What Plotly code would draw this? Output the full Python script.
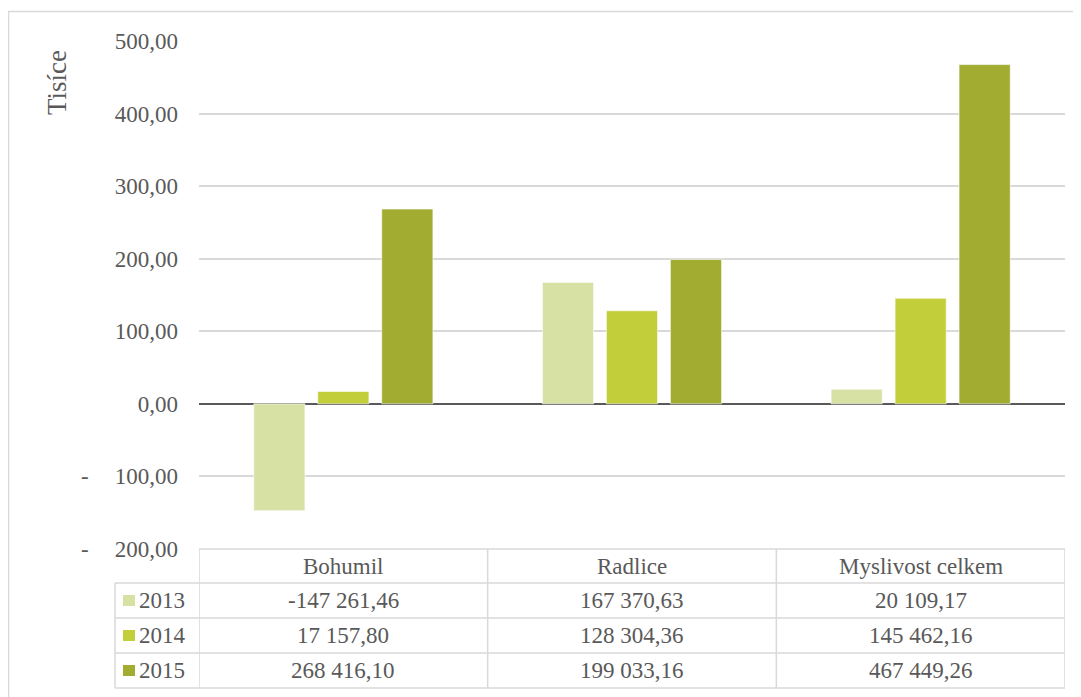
import plotly.graph_objects as go

categories = ["Bohumil", "Radlice", "Myslivost celkem"]
years = ["2013", "2014", "2015"]
values_2013 = [-147261.46, 167370.63, 20109.17]
values_2014 = [17157.80, 128304.36, 145462.16]
values_2015 = [268416.10, 199033.16, 467449.26]
series = [values_2013, values_2014, values_2015]
colors = ["#d8e1a4", "#c3cf3a", "#a1ac30"]
y_ticks = [-200, -100, 0, 100, 200, 300, 400, 500]

FONT = "Liberation Serif"
TXT = "#595959"
GRID = "#d9d9d9"
FS = 23
FS_TITLE = 27

OFF = 8  # page body margin
W, H = 1081 - OFF, 697 - OFF
L, R, T, B = 199 - OFF, 1065 - OFF, 41 - OFF, 549 - OFF


def px(x):
    return (x - OFF - L) / (R - L)


def py(y):
    return (B - (y - OFF)) / (B - T)


def fmt_cz(v):
    s = f"{abs(v):,.2f}"
    s = s.replace(",", " ").replace(".", ",")
    return ("-" if v < 0 else "") + s


fig = go.Figure()
for yr, vals, col in zip(years, series, colors):
    fig.add_trace(go.Bar(
        x=categories, y=[v / 1000 for v in vals], name=yr,
        marker=dict(color=col, line=dict(color="rgba(255,255,255,0.6)", width=1)),
        hoverinfo="skip",
    ))

ticktext = [fmt_cz(abs(t)) for t in y_ticks]

shapes = []
annotations = []

# outer chart border
shapes.append(dict(type="rect", xref="paper", yref="paper",
                   x0=px(8.5), x1=px(1100), y0=py(11.5), y1=py(720),
                   line=dict(color=GRID, width=1.5), layer="below"))

# table lines
row_lines = [583, 618, 653, 688]
line_style = dict(color=GRID, width=1.5)
shapes.append(dict(type="line", xref="x", yref="paper", x0=-0.5, x1=2.5,
                   y0=py(549), y1=py(549), line=line_style))
for ry in row_lines:
    shapes.append(dict(type="line", xref="paper", yref="paper", x0=px(115), x1=1,
                       y0=py(ry), y1=py(ry), line=line_style))
for cx in [-0.5, 0.5, 1.5, 2.5]:
    shapes.append(dict(type="line", xref="x", yref="paper", x0=cx, x1=cx,
                       y0=py(549), y1=py(688), line=line_style))
shapes.append(dict(type="line", xref="paper", yref="paper", x0=px(115), x1=px(115),
                   y0=py(583), y1=py(688), line=line_style))

# header text
for i, c in enumerate(categories):
    annotations.append(dict(x=i, y=py(566), xref="x", yref="paper", text=c,
                            showarrow=False, font=dict(family=FONT, size=FS, color=TXT),
                            xanchor="center", yanchor="middle"))

row_centers = [600.5, 635.5, 670.5]
for yr, vals, col, rc in zip(years, series, colors, row_centers):
    shapes.append(dict(type="rect", xref="paper", yref="paper",
                       x0=px(123), x1=px(135), y0=py(rc - 5.5), y1=py(rc + 5.5),
                       fillcolor=col, line=dict(width=0)))
    annotations.append(dict(x=px(137), y=py(rc), xref="paper", yref="paper", text=yr,
                            showarrow=False, font=dict(family=FONT, size=FS, color=TXT),
                            xanchor="left", yanchor="middle"))
    for i, v in enumerate(vals):
        annotations.append(dict(x=i, y=py(rc), xref="x", yref="paper", text=fmt_cz(v),
                                showarrow=False, font=dict(family=FONT, size=FS, color=TXT),
                                xanchor="center", yanchor="middle"))

# dashes for negative ticks (accounting format)
for t in y_ticks:
    if t < 0:
        annotations.append(dict(x=px(85), y=t, xref="paper", yref="y", text="-",
                                showarrow=False, font=dict(family=FONT, size=FS, color=TXT),
                                xanchor="center", yanchor="middle"))

# axis title
annotations.append(dict(x=px(57), y=py(83), xref="paper", yref="paper", text="Tisíce",
                        textangle=-90, showarrow=False,
                        font=dict(family=FONT, size=FS_TITLE, color=TXT),
                        xanchor="center", yanchor="middle"))

fig.update_layout(
    width=W, height=H,
    margin=dict(l=L, r=W - R, t=T, b=H - B),
    paper_bgcolor="white", plot_bgcolor="white",
    barmode="group", bargap=0.335, bargroupgap=0.2,
    showlegend=False,
    font=dict(family=FONT, size=FS, color=TXT),
    xaxis=dict(range=[-0.5, 2.5], showticklabels=False, showgrid=False,
               zeroline=False, showline=False, ticks=""),
    yaxis=dict(range=[-200, 500], tickvals=y_ticks, ticktext=ticktext,
               showgrid=True, gridcolor=GRID, gridwidth=1.5,
               zeroline=True, zerolinecolor="#595959", zerolinewidth=1.5,
               showline=False, ticks="", ticklabelstandoff=20,
               tickfont=dict(family=FONT, size=FS, color=TXT)),
    shapes=shapes, annotations=annotations,
)

fig.write_html("out.html")
